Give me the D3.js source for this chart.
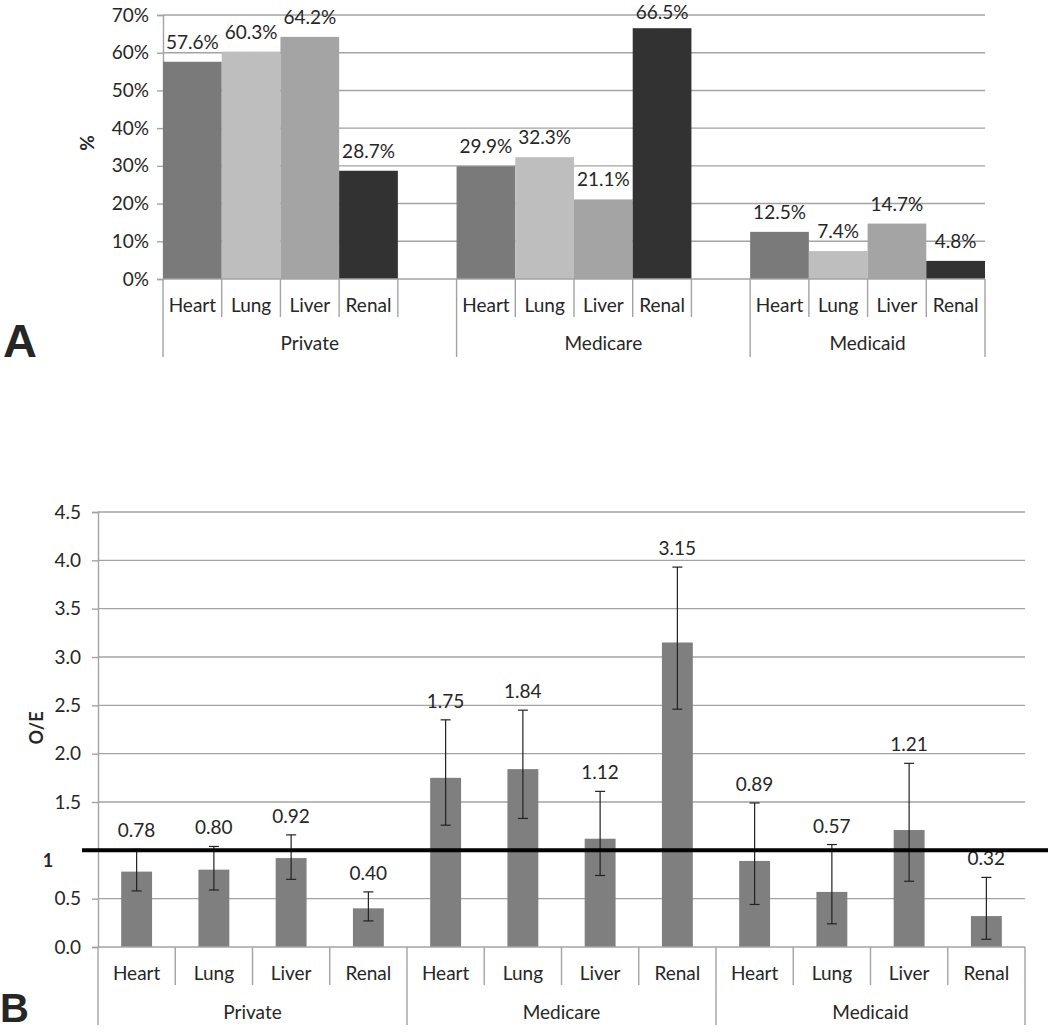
<!DOCTYPE html>
<html>
<head>
<meta charset="utf-8">
<script src="https://cdn.jsdelivr.net/npm/d3@7"></script>
<style>
  html, body { margin: 0; padding: 0; background: #fff; }
  svg { display: block; }
  text { font-family: Lato, "Open Sans", sans-serif; fill: #262626; }
</style>
</head>
<body>
<svg id="chart" width="1050" height="1032"></svg>
<script>
// ---------- DATA ----------
const groups = ["Private", "Medicare", "Medicaid"];
const organs = ["Heart", "Lung", "Liver", "Renal"];

// Panel A: % by payer and organ
const pctPrivate  = [57.6, 60.3, 64.2, 28.7];
const pctMedicare = [29.9, 32.3, 21.1, 66.5];
const pctMedicaid = [12.5, 7.4, 14.7, 4.8];
const pctTicks = [0, 10, 20, 30, 40, 50, 60, 70];

// Panel B: O/E ratio with confidence limits (Private, Medicare, Medicaid x Heart, Lung, Liver, Renal)
const oeValues = [0.78, 0.80, 0.92, 0.40, 1.75, 1.84, 1.12, 3.15, 0.89, 0.57, 1.21, 0.32];
const oeLow    = [0.58, 0.59, 0.70, 0.27, 1.26, 1.33, 0.74, 2.46, 0.44, 0.24, 0.68, 0.08];
const oeHigh   = [1.01, 1.04, 1.16, 0.57, 2.35, 2.45, 1.61, 3.93, 1.49, 1.06, 1.90, 0.72];
const oeTicks  = [0, 0.5, 1.5, 2.0, 2.5, 3.0, 3.5, 4.0, 4.5];
const oeRef = 1;

const organColors = ["#7a7a7a", "#bebebe", "#a4a4a4", "#323232"];
const gridColor = "#a3a3a3";
const FS = "19px";

const svg = d3.select("#chart");

// ================= PANEL A =================
const pctByGroup = [pctPrivate, pctMedicare, pctMedicaid];
const slots = [];
groups.forEach((g, gi) => {
  organs.forEach(o => slots.push(g + "|" + o));
  if (gi < groups.length - 1) slots.push(g + "|blank");
});
const xA = d3.scaleBand().domain(slots).range([163, 985]).padding(0);
const yA = d3.scaleLinear().domain([0, 70]).range([279, 15]);
const gA = svg.append("g");

gA.append("g").selectAll("line").data(pctTicks.filter(d => d > 0)).join("line")
  .attr("x1", 163).attr("x2", 985)
  .attr("y1", d => yA(d)).attr("y2", d => yA(d))
  .attr("stroke", gridColor).attr("stroke-width", 1.4);

const axA = gA.append("g").attr("transform", "translate(163,0)")
  .call(d3.axisLeft(yA).tickValues(pctTicks).tickFormat(d => d + "%").tickSize(6).tickPadding(8));
axA.select(".domain").attr("stroke", gridColor).attr("stroke-width", 1.4);
axA.selectAll(".tick line").attr("stroke", gridColor).attr("stroke-width", 1.4);
axA.selectAll(".tick text").style("font-family", "Lato, sans-serif").style("font-size", FS).attr("fill", "#262626");

const barsA = [];
groups.forEach((g, gi) => organs.forEach((o, oi) => barsA.push({ key: g + "|" + o, v: pctByGroup[gi][oi], oi })));
gA.append("g").selectAll("rect").data(barsA).join("rect")
  .attr("x", d => xA(d.key)).attr("width", xA.bandwidth())
  .attr("y", d => yA(d.v)).attr("height", d => yA(0) - yA(d.v))
  .attr("fill", d => organColors[d.oi]);

gA.append("g").selectAll("text").data(barsA).join("text")
  .attr("x", d => xA(d.key) + xA.bandwidth() / 2)
  .attr("y", d => Math.max(yA(d.v) - 13, 19))
  .attr("text-anchor", "middle").style("font-size", FS)
  .text(d => d.v.toFixed(1) + "%");

gA.append("line").attr("x1", 163).attr("x2", 985).attr("y1", yA(0)).attr("y2", yA(0))
  .attr("stroke", gridColor).attr("stroke-width", 1.4);

const sepA = [];
groups.forEach((g, gi) => {
  organs.forEach((o, oi) => sepA.push({ x: xA(g + "|" + o), long: oi === 0 }));
  sepA.push({ x: xA(g + "|Renal") + xA.bandwidth(), long: gi === groups.length - 1 });
});
gA.append("g").selectAll("line").data(sepA).join("line")
  .attr("x1", d => d.x).attr("x2", d => d.x)
  .attr("y1", yA(0)).attr("y2", d => d.long ? 357 : 317)
  .attr("stroke", gridColor).attr("stroke-width", 1.4);

gA.append("g").selectAll("text").data(barsA).join("text")
  .attr("x", d => xA(d.key) + xA.bandwidth() / 2).attr("y", 312)
  .attr("text-anchor", "middle").style("font-size", FS)
  .text(d => organs[d.oi]);

gA.append("g").selectAll("text").data(groups).join("text")
  .attr("x", (g, gi) => {
    const left = xA(g + "|Heart");
    const right = gi < groups.length - 1 ? xA(groups[gi + 1] + "|Heart") : xA(g + "|Renal") + xA.bandwidth();
    return (left + right) / 2;
  })
  .attr("y", 350).attr("text-anchor", "middle").style("font-size", FS)
  .text(d => d);

gA.append("text").attr("transform", "translate(94,143) rotate(-90)")
  .attr("text-anchor", "middle").style("font-size", "19px").style("font-weight", "bold")
  .text("%");

svg.append("text").attr("x", 3).attr("y", 357)
  .style("font-family", "'Liberation Sans', Arial, sans-serif").style("font-size", "47px").style("font-weight", "bold")
  .attr("fill", "#000").text("A");

// ================= PANEL B =================
const catsB = [];
groups.forEach(g => organs.forEach(o => catsB.push(g + "|" + o)));
const xB = d3.scaleBand().domain(catsB).range([98, 1025]).padding(0);
const yB = d3.scaleLinear().domain([0, 4.5]).range([947, 512]);
const gB = svg.append("g");
const barFrac = 0.4;

gB.append("g").selectAll("line").data(oeTicks.filter(d => d > 0)).join("line")
  .attr("x1", 98).attr("x2", 1025)
  .attr("y1", d => yB(d)).attr("y2", d => yB(d))
  .attr("stroke", gridColor).attr("stroke-width", 1.4);

const axB = gB.append("g").attr("transform", "translate(98,0)")
  .call(d3.axisLeft(yB).tickValues(oeTicks).tickFormat(d3.format(".1f")).tickSize(6).tickPadding(11));
axB.select(".domain").attr("stroke", gridColor).attr("stroke-width", 1.4);
axB.selectAll(".tick line").attr("stroke", gridColor).attr("stroke-width", 1.4);
axB.selectAll(".tick text").style("font-family", "Lato, sans-serif").style("font-size", FS).attr("fill", "#262626");

const barsB = catsB.map((k, i) => ({ key: k, v: oeValues[i], lo: oeLow[i], hi: oeHigh[i], oi: i % 4 }));
const cx = d => xB(d.key) + xB.bandwidth() / 2;

gB.append("g").selectAll("rect").data(barsB).join("rect")
  .attr("x", d => cx(d) - xB.bandwidth() * barFrac / 2).attr("width", xB.bandwidth() * barFrac)
  .attr("y", d => yB(d.v)).attr("height", d => yB(0) - yB(d.v))
  .attr("fill", "#7f7f7f");

const defs = svg.append("defs");
defs.append("filter").attr("id", "blur").attr("x", "-5%").attr("y", "-200%").attr("width", "110%").attr("height", "500%")
  .append("feGaussianBlur").attr("stdDeviation", 2);
svg.append("line").attr("x1", 84).attr("x2", 1048).attr("y1", yB(oeRef) + 4).attr("y2", yB(oeRef) + 4)
  .attr("stroke", "#999").attr("stroke-width", 4).attr("filter", "url(#blur)");
svg.append("line").attr("x1", 82).attr("x2", 1048).attr("y1", yB(oeRef)).attr("y2", yB(oeRef))
  .attr("stroke", "#000").attr("stroke-width", 4);
svg.append("text").attr("x", 48).attr("y", yB(oeRef) + 17).attr("text-anchor", "middle")
  .style("font-size", "18px").style("font-weight", "bold").attr("fill", "#111").text(String(oeRef));

const eb = gB.append("g").attr("stroke", "#222").attr("stroke-width", 1.2);
eb.selectAll("line.v").data(barsB).join("line").attr("class", "v")
  .attr("x1", cx).attr("x2", cx).attr("y1", d => yB(d.lo)).attr("y2", d => yB(d.hi));
eb.selectAll("line.t").data(barsB).join("line").attr("class", "t")
  .attr("x1", d => cx(d) - 5).attr("x2", d => cx(d) + 5).attr("y1", d => yB(d.hi)).attr("y2", d => yB(d.hi));
eb.selectAll("line.b").data(barsB).join("line").attr("class", "b")
  .attr("x1", d => cx(d) - 5).attr("x2", d => cx(d) + 5).attr("y1", d => yB(d.lo)).attr("y2", d => yB(d.lo));

gB.append("g").selectAll("text").data(barsB).join("text")
  .attr("x", cx).attr("y", d => yB(d.hi) - 12)
  .attr("text-anchor", "middle").style("font-size", FS)
  .text(d => d.v.toFixed(2));

gB.append("line").attr("x1", 98).attr("x2", 1025).attr("y1", yB(0)).attr("y2", yB(0))
  .attr("stroke", gridColor).attr("stroke-width", 1.4);

const sepB = catsB.map((k, i) => ({ x: xB(k), long: i % 4 === 0 }));
sepB.push({ x: xB(catsB[catsB.length - 1]) + xB.bandwidth(), long: true });
gB.append("g").selectAll("line").data(sepB).join("line")
  .attr("x1", d => d.x).attr("x2", d => d.x)
  .attr("y1", yB(0)).attr("y2", d => d.long ? 1025 : 985)
  .attr("stroke", gridColor).attr("stroke-width", 1.4);

gB.append("g").selectAll("text").data(barsB).join("text")
  .attr("x", cx).attr("y", 980).attr("text-anchor", "middle").style("font-size", FS)
  .text(d => organs[d.oi]);

gB.append("g").selectAll("text").data(groups).join("text")
  .attr("x", g => (xB(g + "|Heart") + xB(g + "|Renal") + xB.bandwidth()) / 2)
  .attr("y", 1019).attr("text-anchor", "middle").style("font-size", FS)
  .text(d => d);

gB.append("text").attr("transform", "translate(43,728) rotate(-90)")
  .attr("text-anchor", "middle").style("font-size", "18px").style("font-weight", "bold")
  .text("O/E");

svg.append("text").attr("x", 0).attr("y", 1022)
  .style("font-family", "'Liberation Sans', Arial, sans-serif").style("font-size", "40px").style("font-weight", "bold")
  .attr("fill", "#000").text("B");
</script>
</body>
</html>
